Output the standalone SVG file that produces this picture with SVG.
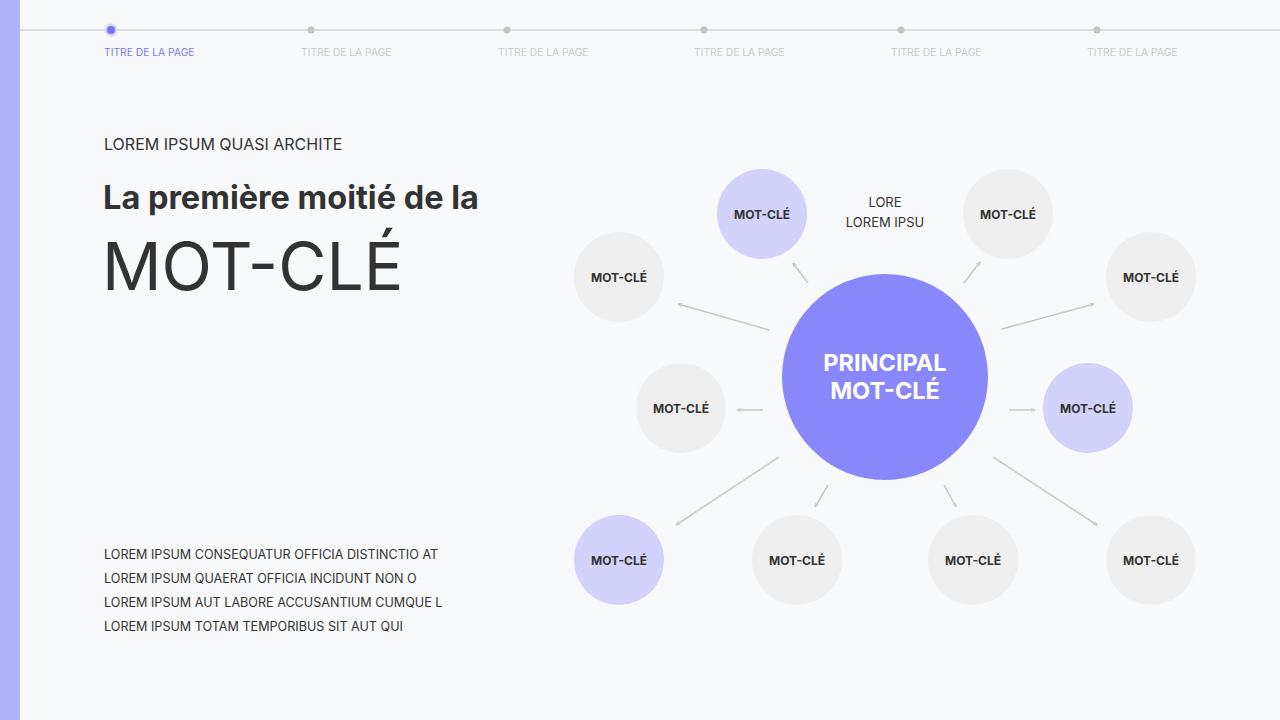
<svg xmlns="http://www.w3.org/2000/svg" width="1280" height="720" viewBox="0 0 1280 720">
<defs>
<style>
.bg{fill:#f8f9fa}
.nav{font-family:Inter,"Noto Sans",sans-serif;font-size:10.3px;fill:#cbcbcb}
.nav.on{fill:#7b7be6}
.dot{fill:#c4c4c4}
.sub{font-family:Inter,"Noto Sans",sans-serif;font-size:16px;fill:#333}
.h1{font-family:Inter,"Noto Sans",sans-serif;font-size:32.5px;font-weight:700;fill:#333}
.big{font-family:Inter,"Noto Sans",sans-serif;font-size:66px;font-weight:400;fill:#333}
.body{font-family:Inter,"Noto Sans",sans-serif;font-size:12.6px;fill:#333}
.lbl{font-family:Inter,"Noto Sans",sans-serif;font-size:12px;font-weight:700;fill:#333;text-anchor:middle}
.main{font-family:Inter,"Noto Sans",sans-serif;font-size:23.5px;font-weight:700;fill:#fff;text-anchor:middle}
.note{font-family:Inter,"Noto Sans",sans-serif;font-size:13px;fill:#333;text-anchor:middle}
.g{fill:#efefef}
.p{fill:#d2d2fa}
.c{stroke:#c8c8c8;stroke-width:1.5;fill:none;marker-end:url(#ah)}
</style>
<marker id="ah" viewBox="0 0 10 10" refX="9" refY="5" markerWidth="5" markerHeight="5" orient="auto" markerUnits="userSpaceOnUse">
<path d="M1,1 L9,5 L1,9" fill="none" stroke="#c8c8c8" stroke-width="1.6"/>
</marker>
</defs>
<rect class="bg" x="0" y="0" width="1280" height="720"/>
<rect x="0" y="0" width="20" height="720" fill="#b2b2fb"/>
<g id="nav">
<line x1="20" y1="30" x2="1280" y2="30" stroke="#c4c4c4" stroke-width="1"/>
<circle cx="111" cy="30" r="6.5" fill="#d6d6fb"/>
<circle cx="111" cy="30" r="4" fill="#7373ee"/>
<circle class="dot" cx="311" cy="30" r="3.5"/>
<circle class="dot" cx="507" cy="30" r="3.5"/>
<circle class="dot" cx="704" cy="30" r="3.5"/>
<circle class="dot" cx="901" cy="30" r="3.5"/>
<circle class="dot" cx="1097" cy="30" r="3.5"/>
<text class="nav on" x="104" y="55.5">TITRE DE LA PAGE</text>
<text class="nav" x="301" y="55.5">TITRE DE LA PAGE</text>
<text class="nav" x="498" y="55.5">TITRE DE LA PAGE</text>
<text class="nav" x="694" y="55.5">TITRE DE LA PAGE</text>
<text class="nav" x="891" y="55.5">TITRE DE LA PAGE</text>
<text class="nav" x="1087" y="55.5">TITRE DE LA PAGE</text>
</g>
<g id="left-text">
<text class="sub" x="104" y="150">LOREM IPSUM QUASI ARCHITE</text>
<text class="h1" x="103" y="209">La première moitié de la</text>
<text class="big" x="102" y="290">MOT-CLÉ</text>
<text class="body" x="104" y="558.5">LOREM IPSUM CONSEQUATUR OFFICIA DISTINCTIO AT</text>
<text class="body" x="104" y="582.5">LOREM IPSUM QUAERAT OFFICIA INCIDUNT NON O</text>
<text class="body" x="104" y="606.5">LOREM IPSUM AUT LABORE ACCUSANTIUM CUMQUE L</text>
<text class="body" x="104" y="630.5">LOREM IPSUM TOTAM TEMPORIBUS SIT AUT QUI</text>
</g>
<g id="connectors">
<line class="c" x1="808" y1="283" x2="793" y2="263"/>
<line class="c" x1="964" y1="283" x2="980" y2="262"/>
<line class="c" x1="769" y1="330" x2="678" y2="304"/>
<line class="c" x1="1002" y1="329" x2="1094" y2="304"/>
<line class="c" x1="763" y1="410" x2="737" y2="410"/>
<line class="c" x1="1009" y1="410" x2="1035" y2="410"/>
<line class="c" x1="779" y1="457" x2="676" y2="525"/>
<line class="c" x1="828" y1="485" x2="815" y2="507"/>
<line class="c" x1="944" y1="485" x2="956" y2="507"/>
<line class="c" x1="993" y1="457" x2="1097" y2="525"/>
</g>
<g id="main"><circle cx="885" cy="377" r="103" fill="#8888fb"/><text class="main" x="885" y="370.5">PRINCIPAL</text><text class="main" x="885" y="399">MOT-CLÉ</text></g>
<g id="n1"><circle class="p" cx="762" cy="214" r="45"/><text class="lbl" x="762" y="219">MOT-CLÉ</text></g>
<g id="n2"><circle class="g" cx="1008" cy="214" r="45"/><text class="lbl" x="1008" y="219">MOT-CLÉ</text></g>
<g id="n3"><circle class="g" cx="619" cy="277" r="45"/><text class="lbl" x="619" y="282">MOT-CLÉ</text></g>
<g id="n4"><circle class="g" cx="1151" cy="277" r="45"/><text class="lbl" x="1151" y="282">MOT-CLÉ</text></g>
<g id="n5"><circle class="g" cx="681" cy="408" r="45"/><text class="lbl" x="681" y="413">MOT-CLÉ</text></g>
<g id="n6"><circle class="p" cx="1088" cy="408" r="45"/><text class="lbl" x="1088" y="413">MOT-CLÉ</text></g>
<g id="n7"><circle class="p" cx="619" cy="560" r="45"/><text class="lbl" x="619" y="565">MOT-CLÉ</text></g>
<g id="n8"><circle class="g" cx="797" cy="560" r="45"/><text class="lbl" x="797" y="565">MOT-CLÉ</text></g>
<g id="n9"><circle class="g" cx="973" cy="560" r="45"/><text class="lbl" x="973" y="565">MOT-CLÉ</text></g>
<g id="n10"><circle class="g" cx="1151" cy="560" r="45"/><text class="lbl" x="1151" y="565">MOT-CLÉ</text></g>
<g id="note"><text class="note" x="885" y="206.5">LORE</text><text class="note" x="885" y="226.5">LOREM IPSU</text></g>
</svg>
